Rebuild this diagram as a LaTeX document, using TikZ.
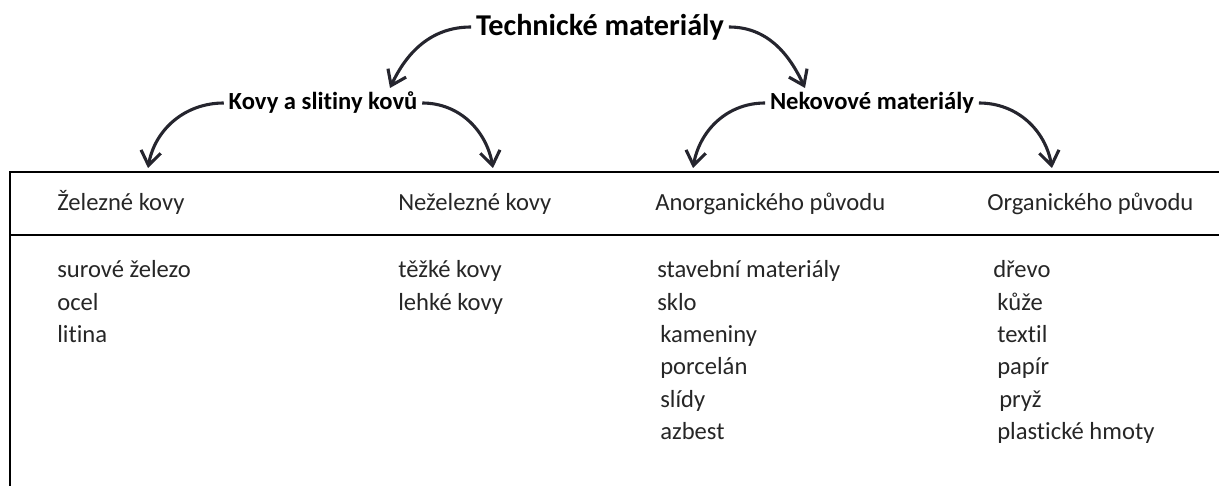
\documentclass[tikz,border=0pt]{standalone}
\usepackage{fontspec}
\setmainfont{Carlito}[RawFeature=-liga]
\usetikzlibrary{arrows.meta, positioning}
\definecolor{arrowgray}{HTML}{25252E}
\tikzset{
	headtext/.style={font=\bfseries\fontsize{21.5}{26}\selectfont, text=black}
}
\tikzset{
	grouptext/.style={font=\bfseries\fontsize{17.5}{21}\selectfont, text=black}
}
\tikzset{
	celltext/.style={font=\fontsize{17.5}{21}\selectfont, text=black!85, anchor=base west, inner sep=0pt},
	curvearrow/.style={line width=2.2pt, draw=arrowgray, -{Straight Barb[length=3.5mm, width=5mm]}}
}

\begin{document}
\begin{tikzpicture}[x=0.025cm, y=-0.025cm]
      \useasboundingbox (0,0) rectangle (1219,486);
      % table frame
      \draw[line width=1.8pt] (10,486) -- (10,172) -- (1219,172);
      \draw[line width=1.8pt] (10,235) -- (1219,235);
      % tree
      \node[headtext] (title) at (600,27) {Technické materiály};
      \node[grouptext] (kovy) at (323,103) {Kovy a slitiny kovů};
      \node[grouptext] (nekov) at (872,103) {Nekovové materiály};
      \coordinate (kovytip) at (390,88);
      \coordinate (nekovtip) at (805,88);
      \coordinate (feltip) at (148,168);
      \coordinate (nefetip) at (493,168);
      \coordinate (anortip) at (693,168);
      \coordinate (orgtip) at (1052,168);
      \draw[curvearrow] (title.west) to[out=180, in=65] (kovytip);
      \draw[curvearrow] (title.east) to[out=0, in=115] (nekovtip);
      \draw[curvearrow] (kovy.west) to[out=180, in=80] (feltip);
      \draw[curvearrow] (kovy.east) to[out=0, in=100] (nefetip);
      \draw[curvearrow] (nekov.west) to[out=180, in=80] (anortip);
      \draw[curvearrow] (nekov.east) to[out=0, in=100] (orgtip);
      % column heads
      \node[celltext] (fehead) at (57,210) {Železné kovy};
      \node[celltext] (nefehead) at (398,210) {Neželezné kovy};
      \node[celltext] (anorhead) at (655,210) {Anorganického původu};
      \node[celltext] (orghead) at (987,210) {Organického původu};
      % items
      \foreach \x/\y/\l [count=\i] in {57/277/surové železo, 57/310/ocel, 57/342/litina}
        \node[celltext] (fe\i) at (\x,\y) {\l};
      \foreach \x/\y/\l [count=\i] in {398/277/těžké kovy, 398/310/lehké kovy}
        \node[celltext] (nefe\i) at (\x,\y) {\l};
      \foreach \x/\y/\l [count=\i] in {657/277/stavební materiály, 657/310/sklo,
          660/342/kameniny, 660/374/porcelán, 660/407/slídy, 660/439/azbest}
        \node[celltext] (anor\i) at (\x,\y) {\l};
      \foreach \x/\y/\l [count=\i] in {993/277/dřevo, 997/310/kůže, 997/342/textil,
          997/374/papír, 999/407/pryž, 997/439/plastické hmoty}
        \node[celltext] (org\i) at (\x,\y) {\l};
    \end{tikzpicture}
\end{document}
